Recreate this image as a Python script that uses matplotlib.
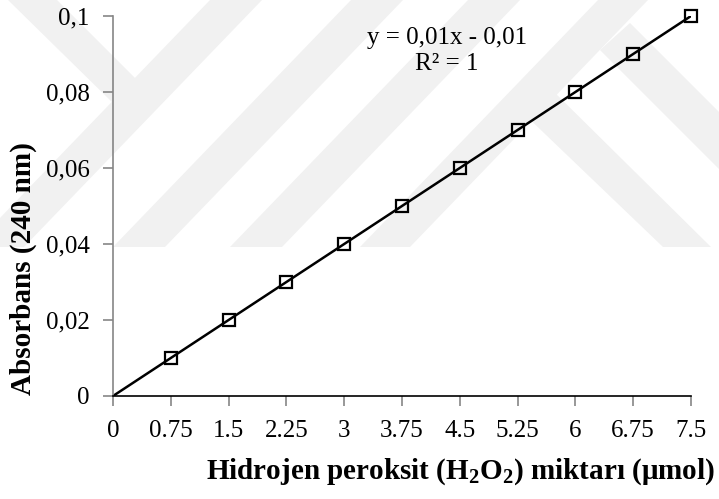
import numpy as np
import matplotlib
matplotlib.use("Agg")
import matplotlib.pyplot as plt
from matplotlib.patches import Polygon

plt.rcParams['font.family'] = ['Liberation Serif', 'DejaVu Serif']
plt.rcParams['mathtext.fontset'] = 'custom'
plt.rcParams['mathtext.rm'] = 'Liberation Serif'
plt.rcParams['mathtext.bf'] = 'Liberation Serif:bold'

# H2O2 amount (umol) and absorbance at 240 nm
amounts = [0, 0.75, 1.5, 2.25, 3, 3.75, 4.5, 5.25, 6, 6.75, 7.5]
absorbance = [0, 0.01, 0.02, 0.03, 0.04, 0.05, 0.06, 0.07, 0.08, 0.09, 0.1]
x_labels = ['0', '0.75', '1.5', '2.25', '3', '3.75', '4.5', '5.25', '6', '6.75', '7.5']
y_ticks = [0, 0.02, 0.04, 0.06, 0.08, 0.1]
y_labels = ['0', '0,02', '0,04', '0,06', '0,08', '0,1']
equation = 'y = 0,01x - 0,01\nR² = 1'

# faint background bands (figure pixels, y downwards)
bands = [
    [(-28, 247), (24, 247), (262, 0), (210, 0)],
    [(113, 247), (165, 247), (403, 0), (351, 0)],
    [(230, 247), (282, 247), (520, 0), (468, 0)],
    [(360, 247), (410, 247), (648, 0), (598, 0)],
    [(663, 247), (711, 247), (545, 83), (520, 110)],
    [(630, 23), (730, 123), (730, 180), (600, 50)],
    [(8, 0), (57, 0), (140, 83), (115, 105)],
]

W, H = 719, 499
fig = plt.figure(figsize=(W / 100, H / 100), dpi=100)

bg = fig.add_axes([0, 0, 1, 1], zorder=0)
bg.set_xlim(0, W)
bg.set_ylim(H, 0)
bg.axis('off')
for b in bands:
    bg.add_patch(Polygon(b, closed=True, facecolor='#f1f1f1', edgecolor='none'))

ax = fig.add_axes([113 / W, 1 - 396 / H, 578 / W, 380 / H], zorder=1)
ax.set_facecolor('none')

x = np.array(amounts)
y = np.array(absorbance)

# linear fit line across the full range
k, b0 = np.polyfit(x, y, 1)
xf = np.array([x.min(), x.max()])
ax.plot(xf, k * xf + b0, color='black', lw=1.8, zorder=2)

mask = x > 0
ax.plot(x[mask], y[mask], linestyle='none', marker='s', markersize=8,
        markerfacecolor='none', markeredgecolor='black', markeredgewidth=1.6,
        zorder=3, clip_on=False)

ax.set_xlim(0, 7.5)
ax.set_ylim(0, 0.1)
ax.set_xticks(amounts)
ax.set_xticklabels(x_labels)
ax.set_yticks(y_ticks)
ax.set_yticklabels(y_labels)

for s in ['top', 'right']:
    ax.spines[s].set_visible(False)
ax.spines['left'].set_color('#868686')
ax.spines['left'].set_linewidth(1.2)
ax.spines['bottom'].set_color('black')
ax.spines['bottom'].set_linewidth(1.2)

ax.tick_params(axis='both', direction='out', length=7, width=1.2,
               color='#868686', labelsize=18, pad=10)

fig.text(23 / W, 1 - 269 / H, 'Absorbans (240 nm)', rotation=90,
         ha='center', va='center', fontsize=21, fontweight='bold')

fig.text(461 / W, 1 - 472 / H,
         r'Hidrojen peroksit (H$_\mathbf{2}$O$_\mathbf{2}$) miktarı (μmol)',
         ha='center', va='center', fontsize=21, fontweight='bold')

fig.text(447 / W, 1 - 51 / H, equation,
         ha='center', va='center', fontsize=18, linespacing=1.2)

fig.savefig('out.png', dpi=100)
